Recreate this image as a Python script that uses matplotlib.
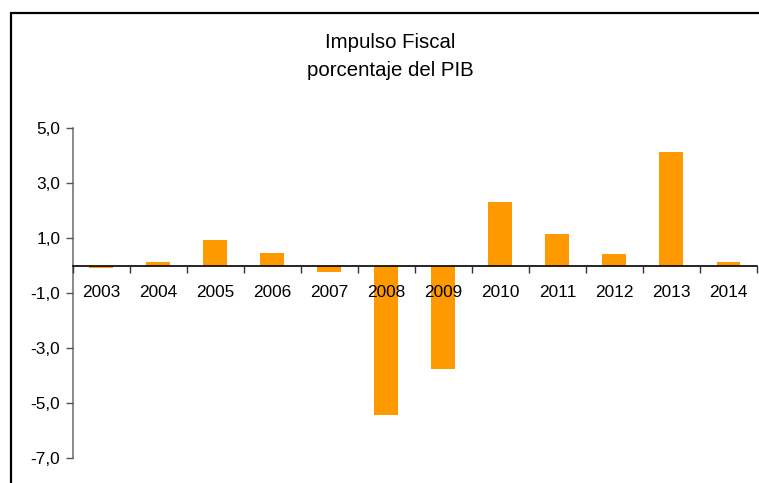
import matplotlib
matplotlib.use("Agg")
import matplotlib.pyplot as plt
from matplotlib.patches import Rectangle
import numpy as np

years = ["2003", "2004", "2005", "2006", "2007", "2008", "2009",
         "2010", "2011", "2012", "2013", "2014"]
values = [-0.08, 0.14, 0.93, 0.46, -0.24, -5.42, -3.76,
          2.31, 1.16, 0.44, 4.15, 0.15]
yticks = [5, 3, 1, -1, -3, -5, -7]
title_lines = ["Impulso Fiscal", "porcentaje del PIB"]

plt.rcParams['font.family'] = ['Liberation Sans', 'DejaVu Sans']

W, H = 759, 483
fig = plt.figure(figsize=(W / 100, H / 100), dpi=100)

# outer frame (extends beyond right and bottom of image)
fig.patches.append(Rectangle((11 / W, -0.1), 1.2, (H - 13) / H + 0.1,
                             transform=fig.transFigure, fill=False,
                             edgecolor='black', linewidth=1.6))

left, right = 72.7 / W, 757 / W
top, bottom = 1 - 128.3 / H, 1 - 458 / H
ax = fig.add_axes([left, bottom, right - left, top - bottom])

x = np.arange(len(years))
ax.bar(x, values, width=0.42, color='#FF9900', zorder=2)
ax.set_axisbelow(False)

ax.set_xlim(-0.5, len(years) - 0.5)
ax.set_ylim(-7, 5)

ax.spines['top'].set_visible(False)
ax.spines['right'].set_visible(False)
ax.spines['bottom'].set_position(('data', 0))
ax.spines['bottom'].set_color('black')
ax.spines['bottom'].set_linewidth(1.2)
ax.spines['left'].set_color('#777777')
ax.spines['left'].set_linewidth(1.2)

ax.set_yticks(yticks)
ax.set_yticklabels([f"{v:.1f}".replace('.', ',') for v in yticks])
ax.tick_params(axis='y', direction='out', length=5, width=1, color='#555555',
               labelsize=12.4, pad=4)

ax.set_xticks(x)
ax.set_xticklabels(years)
ax.set_xticks(np.arange(-0.5, len(years), 1.0), minor=True)
ax.tick_params(axis='x', which='major', length=0, labelsize=12.4, pad=14)
ax.tick_params(axis='x', which='minor', direction='out', length=5, width=1,
               color='#333333')

fig.text(390 / W, 1 - 43 / H, title_lines[0], ha='center', va='center',
         fontsize=14.7)
fig.text(390 / W, 1 - 70 / H, title_lines[1], ha='center', va='center',
         fontsize=14.7)

fig.savefig("out.png", dpi=100)
